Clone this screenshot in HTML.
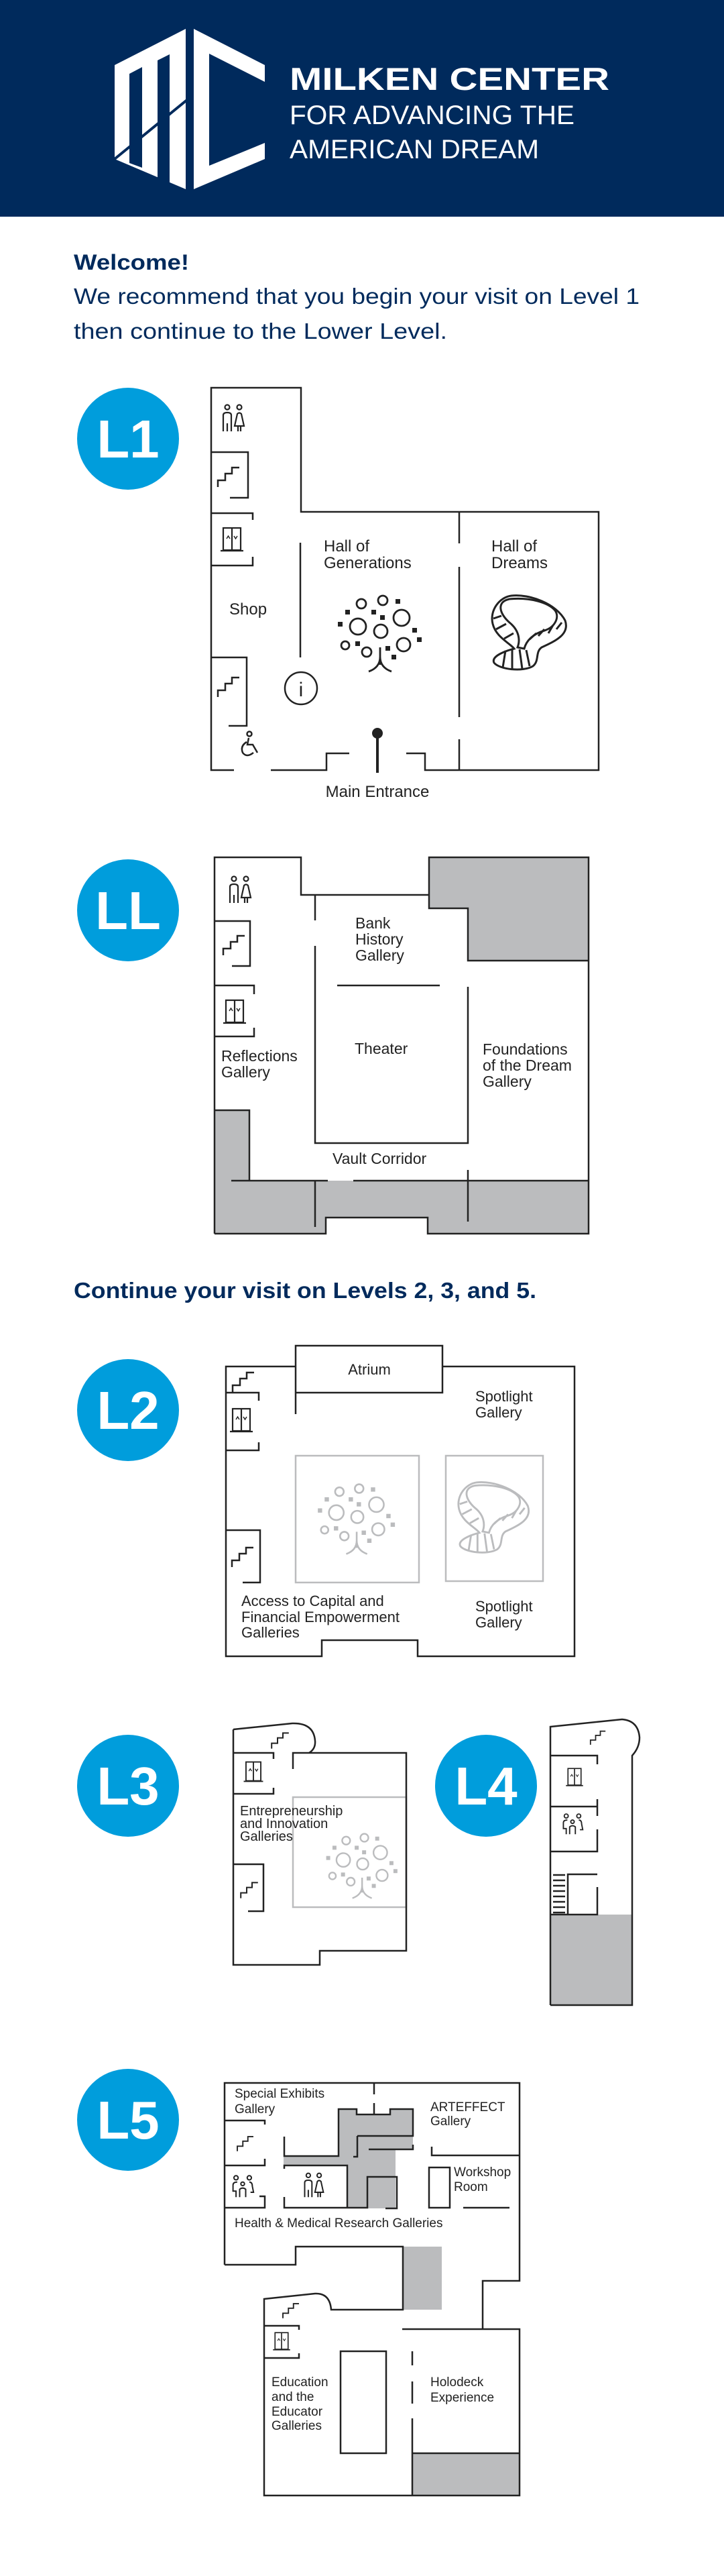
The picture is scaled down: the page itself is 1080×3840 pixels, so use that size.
<!DOCTYPE html>
<html><head><meta charset="utf-8"><style>
html,body{margin:0;padding:0;background:#fff;}
svg{display:block;}
.w{fill:none;stroke:#222;stroke-width:2.5;}
.g{fill:none;stroke:#bbbcbe;stroke-width:2.5;}
.t{font-family:"Liberation Sans",sans-serif;fill:#222;}
.nv{font-family:"Liberation Sans",sans-serif;fill:#002a5c;}
</style></head><body>
<svg width="1080" height="3840" viewBox="0 0 1080 3840" xmlns="http://www.w3.org/2000/svg">
<defs>
<g id="stair"><path d="M-16,17 V7 H-5 V-3 H5 V-12 H16" fill="none" stroke="#222" stroke-width="2.5"/></g>
<g id="elev" fill="none" stroke="#222" stroke-width="2.2"><rect x="-13" y="-17" width="26" height="33"/><line x1="0" y1="-17" x2="0" y2="16"/><line x1="-17" y1="17" x2="17" y2="17"/><path d="M-8,-1 L-5.5,-5 L-3,-1 M3,-5 L5.5,-1 L8,-5" stroke-width="1.5"/></g>
<g id="rest" fill="none" stroke="#222" stroke-width="2.2"><circle cx="-9" cy="-18" r="3.5"/><path d="M-15,18 V4 M-15,4 V-6 Q-15,-10 -9,-10 Q-3,-10 -3,-6 V4 M-3,4 V18 M-9,6 V18"/><circle cx="9" cy="-18" r="3.5"/><path d="M2,10 L6,-8 Q9,-11 12,-8 L16,10 Z M7,10 V18 M11,10 V18"/></g>
<g id="fam" fill="none" stroke="#222" stroke-width="2.2"><circle cx="-11" cy="-14" r="3.5"/><circle cx="11" cy="-14" r="3.5"/><circle cx="0" cy="-4" r="3"/><path d="M-11,18 V8 H-16 V-2 Q-16,-7 -9,-7 M11,-7 Q16,-7 16,0 L18,10 H13 M-5,18 V5 Q0,1 5,5 V18"/></g>
<g id="tree">
<g fill="none" stroke-width="2.8"><circle cx="-29" cy="-45" r="7"/><circle cx="3" cy="-50" r="7"/><circle cx="31" cy="-24" r="12"/><circle cx="-34" cy="-11" r="12"/><circle cx="0" cy="-4" r="10"/><circle cx="34" cy="16" r="10"/><circle cx="-53" cy="17" r="6"/><circle cx="-21" cy="27" r="7"/>
<path d="M-1,20 V46 M-18,56 Q-1,50 -1,34 Q-1,50 16,56"/></g>
<g stroke="none"><rect x="22" y="-52" width="7" height="7"/><rect x="-53" y="-36" width="7" height="7"/><rect x="-14" y="-36" width="7" height="7"/><rect x="-1" y="-28" width="7" height="7"/><rect x="-64" y="-18" width="7" height="7"/><rect x="47" y="-9" width="7" height="7"/><rect x="54" y="5" width="7" height="7"/><rect x="-38" y="11" width="7" height="7"/><rect x="7" y="18" width="7" height="7"/><rect x="16" y="31" width="7" height="7"/></g>
</g>
<g id="dream" fill="none" stroke-width="3">
<path d="M763,888 C790,885 830,900 843,925 C850,945 830,955 808,965 C798,972 805,985 795,993 C780,1002 745,998 737,988 C732,978 755,970 767,967 C760,958 740,950 735,930 C730,910 745,890 763,888 Z"/>
<path d="M760,893 C740,897 745,915 760,928 C775,940 776,955 772,965 L782,967 C785,955 795,945 812,940 C828,935 835,920 828,910 C818,898 790,890 760,893 Z"/>
<path d="M736,922 L748,918 M740,938 L755,930 M752,952 L766,944 M790,953 L800,944 M803,948 L812,938 M818,944 L825,932 M830,938 L838,928 M754,970 L750,995 M764,968 L764,998 M775,968 L779,997 M785,969 L790,993"/>
</g>
</defs>

<!-- Header -->
<rect x="0" y="0" width="1080" height="323" fill="#002a5c"/>
<polygon points="171,97 277,43 277,282 171,237" fill="#fff"/>
<polygon points="193,110 212,100 212,250 193,243" fill="#002a5c"/>
<polygon points="235,90 253,81 253,272 235,265" fill="#002a5c"/>
<line x1="171" y1="237" x2="312" y2="122" stroke="#002a5c" stroke-width="4"/>
<polygon points="289,43 395,97 395,122 312,80 312,247 395,213 395,237 289,282" fill="#fff"/>
<text x="432" y="134" font-size="47" font-weight="bold" fill="#fff" font-family="Liberation Sans,sans-serif" textLength="477" lengthAdjust="spacingAndGlyphs">MILKEN CENTER</text>
<text x="432" y="185" font-size="40" fill="#fff" font-family="Liberation Sans,sans-serif" textLength="425" lengthAdjust="spacingAndGlyphs">FOR ADVANCING THE</text>
<text x="432" y="236" font-size="40" fill="#fff" font-family="Liberation Sans,sans-serif" textLength="372" lengthAdjust="spacingAndGlyphs">AMERICAN DREAM</text>

<text class="nv" x="110" y="402" font-size="32" font-weight="bold" textLength="172" lengthAdjust="spacingAndGlyphs">Welcome!</text>
<text class="nv" x="110" y="453" font-size="33" textLength="844" lengthAdjust="spacingAndGlyphs">We recommend that you begin your visit on Level 1</text>
<text class="nv" x="110" y="505" font-size="33" textLength="557" lengthAdjust="spacingAndGlyphs">then continue to the Lower Level.</text>

<!-- L1 -->
<circle cx="191" cy="654" r="76" fill="#009ddc"/>
<text x="191" y="682" font-size="80" font-weight="bold" fill="#fff" text-anchor="middle" font-family="Liberation Sans,sans-serif">L1</text>
<path class="w" d="M349,1148 H315 V578 H449 V763 H893 V1148 H634 V1123 H606 M521,1123 H487 V1148 H404"/>
<path class="w" d="M685,763 V810 M685,845 V1069 M685,1102 V1148 M448,809 V980"/>
<path class="w" d="M315,674 H370 V742 H343 M315,765 H377 V775 M377,830 V843 H315 M315,980 H368 V1082 H341"/>
<use href="#rest" x="348" y="625"/>
<use href="#stair" x="341" y="709"/>
<use href="#elev" x="346" y="804"/>
<use href="#stair" x="341" y="1022"/>
<line x1="563" y1="1093" x2="563" y2="1152" stroke="#222" stroke-width="4"/>
<circle cx="563" cy="1093" r="8" fill="#222"/>
<circle cx="449" cy="1026" r="24" class="w"/>
<text x="449" y="1038" font-size="30" text-anchor="middle" class="t" font-family="Liberation Serif,serif">i</text>
<g class="w" stroke-width="2"><circle cx="372" cy="1094" r="3.5"/><path d="M371,1100 L369,1110 H377 L384,1122 M368,1106 Q358,1112 362,1122 Q368,1130 378,1122"/></g>
<use href="#tree" x="568" y="945" fill="#222" stroke="#222"/>
<use href="#dream" stroke="#222"/>
<text class="t" x="342" y="916" font-size="24">Shop</text>
<text class="t" x="483" y="822" font-size="24">Hall of</text>
<text class="t" x="483" y="847" font-size="24">Generations</text>
<text class="t" x="733" y="822" font-size="24">Hall of</text>
<text class="t" x="733" y="847" font-size="24">Dreams</text>
<text class="t" x="563" y="1188" font-size="24" text-anchor="middle">Main Entrance</text>

<!-- LL -->
<circle cx="191" cy="1357" r="76" fill="#009ddc"/>
<text x="191" y="1385" font-size="80" font-weight="bold" fill="#fff" text-anchor="middle" font-family="Liberation Sans,sans-serif">LL</text>
<polygon points="640,1278 878,1278 878,1432 698,1432 698,1354 640,1354" fill="#bbbcbe"/>
<polygon points="320,1655 372,1655 372,1760 878,1760 878,1839 638,1839 638,1815 486,1815 486,1839 320,1839" fill="#bbbcbe"/>
<path class="w" d="M320,1839 V1278 H449 V1334 H640 V1278 H878 V1839 H638 V1815 H486 V1839 H320 M640,1334 V1354 H698 V1432 H878"/>
<path class="w" d="M470,1334 V1372 M470,1410 V1704 H698 V1471 M503,1469 H656 M320,1655 H372 V1760 H345 M372,1760 H489 M527,1760 H878 M470,1760 V1829 M698,1744 V1821"/>
<path class="w" d="M320,1373 H373 V1440 H346 M320,1469 H379 V1482 M379,1532 V1545 H320"/>
<use href="#rest" x="358" y="1328"/>
<use href="#stair" x="349" y="1407"/>
<use href="#elev" x="350" y="1508"/>
<text class="t" x="530" y="1384" font-size="23">Bank</text>
<text class="t" x="530" y="1408" font-size="23">History</text>
<text class="t" x="530" y="1432" font-size="23">Gallery</text>
<text class="t" x="529" y="1571" font-size="23">Theater</text>
<text class="t" x="330" y="1582" font-size="23">Reflections</text>
<text class="t" x="330" y="1606" font-size="23">Gallery</text>
<text class="t" x="720" y="1572" font-size="23">Foundations</text>
<text class="t" x="720" y="1596" font-size="23">of the Dream</text>
<text class="t" x="720" y="1620" font-size="23">Gallery</text>
<text class="t" x="496" y="1735" font-size="23">Vault Corridor</text>

<text class="nv" x="110" y="1935" font-size="33" font-weight="bold" textLength="690" lengthAdjust="spacingAndGlyphs">Continue your visit on Levels 2, 3, and 5.</text>

<!-- L2 -->
<circle cx="191" cy="2102" r="76" fill="#009ddc"/>
<text x="191" y="2130" font-size="80" font-weight="bold" fill="#fff" text-anchor="middle" font-family="Liberation Sans,sans-serif">L2</text>
<path class="w" d="M441,2037 H337 V2469 H480 V2445 H623 V2469 H857 V2037 H660 M441,2006 H660 V2076 H441 Z M441,2076 V2108"/>
<path class="w" d="M337,2076 H386 V2088 M386,2150 V2162 H337 M337,2281 H388 V2359 H362"/>
<use href="#stair" x="363" y="2058" transform="translate(0,0)"/>
<use href="#elev" x="360" y="2117"/>
<use href="#stair" x="362" y="2319"/>
<rect x="441" y="2170" width="184" height="189" class="g"/>
<rect x="665" y="2170" width="145" height="187" class="g"/>
<use href="#tree" transform="translate(533,2265) scale(0.92)" fill="#bbbcbe" stroke="#bbbcbe"/>
<use href="#dream" transform="translate(737,2263) scale(0.95) translate(-790,-944)" stroke="#bbbcbe"/>
<text class="t" x="551" y="2049" font-size="22" text-anchor="middle">Atrium</text>
<text class="t" x="709" y="2089" font-size="22">Spotlight</text>
<text class="t" x="709" y="2113" font-size="22">Gallery</text>
<text class="t" x="709" y="2402" font-size="22">Spotlight</text>
<text class="t" x="709" y="2426" font-size="22">Gallery</text>
<text class="t" x="360" y="2394" font-size="22">Access to Capital and</text>
<text class="t" x="360" y="2418" font-size="22">Financial Empowerment</text>
<text class="t" x="360" y="2441" font-size="22">Galleries</text>

<!-- L3 -->
<circle cx="191" cy="2662" r="76" fill="#009ddc"/>
<text x="191" y="2690" font-size="80" font-weight="bold" fill="#fff" text-anchor="middle" font-family="Liberation Sans,sans-serif">L3</text>
<rect x="437" y="2679" width="169" height="164" class="g" stroke-width="3"/>
<use href="#tree" transform="translate(541,2782) scale(0.85)" fill="#bbbcbe" stroke="#bbbcbe"/>
<path class="w" d="M348,2578 L436,2569 Q468,2568 470,2595 Q471,2607 461,2613 M437,2637 V2613 H606 V2908 H477 V2929 H348 V2578 M348,2613 H408 V2622 M408,2665 V2674 H348 M348,2779 H393 V2849 H370"/>
<use href="#stair" transform="translate(418,2593) scale(0.8)"/>
<use href="#elev" transform="translate(378,2641) scale(0.85)"/>
<use href="#stair" transform="translate(372,2816) scale(0.8)"/>
<text class="t" x="358" y="2706" font-size="20">Entrepreneurship</text>
<text class="t" x="358" y="2725" font-size="20">and Innovation</text>
<text class="t" x="358" y="2744" font-size="20">Galleries</text>

<!-- L4 -->
<circle cx="725" cy="2662" r="76" fill="#009ddc"/>
<text x="725" y="2690" font-size="80" font-weight="bold" fill="#fff" text-anchor="middle" font-family="Liberation Sans,sans-serif">L4</text>
<rect x="821" y="2854" width="122" height="135" fill="#bbbcbe"/>
<path class="w" d="M821,2989 V2574 L928,2563 Q952,2565 954,2590 Q954,2605 943,2617 V2989 H821"/>
<path class="w" d="M821,2617 H891 V2630 M891,2682 V2693 H821 M891,2682 V2707 M891,2727 V2760 H821 M847,2854 V2794 H891 M891,2813 V2854 H821"/>
<path class="w" stroke-width="2" d="M825,2795 H843 M825,2803 H843 M825,2811 H843 M825,2819 H843 M825,2827 H843 M825,2835 H843 M825,2843 H843 M825,2851 H843"/>
<use href="#stair" transform="translate(892,2589) scale(0.7)"/>
<use href="#elev" transform="translate(857,2649) scale(0.75)"/>
<use href="#fam" transform="translate(854,2719) scale(0.85)"/>

<!-- L5 -->
<circle cx="191" cy="3160" r="76" fill="#009ddc"/>
<text x="191" y="3188" font-size="80" font-weight="bold" fill="#fff" text-anchor="middle" font-family="Liberation Sans,sans-serif">L5</text>
<polygon points="505,3144 532,3144 532,3152 582,3152 582,3144 616,3144 616,3205 590,3205 590,3292 519,3292 519,3228 423,3228 423,3214 505,3214" fill="#bbbcbe"/>
<rect x="601" y="3349" width="58" height="94" fill="#bbbcbe"/>
<rect x="615" y="3657" width="160" height="63" fill="#bbbcbe"/>
<path class="w" d="M335,3376 V3105 H775 V3400 H720 V3472 H775 V3720 H394 V3427 L470,3419 Q492,3418 494,3443 H601 V3349 H441 V3376 H335 M600,3472 H720"/>
<path class="w" d="M558,3105 V3122 M558,3135 V3152 M424,3185 V3214 H505 V3144 H532 V3152 H582 V3144 H616 V3184 H533 M533,3184 V3215 H527 M550,3204 H616 V3197 M644,3200 V3213 H775"/>
<path class="w" d="M335,3161 H395 V3167 M395,3218 V3228 H335 M335,3228 H395 M335,3291 H395 V3274 H387 M424,3233 V3228 H518 V3291 H424 V3275 M518,3291 H548 V3245 H592 V3292 H575 M640,3231 H671 V3291 H640 Z M691,3291 H760"/>
<path class="w" d="M394,3467 H446 V3473 M446,3508 V3515 H394 M508,3505 H576 V3657 H508 Z M615,3505 V3526 M615,3550 V3583 M615,3605 V3720 M615,3657 H775"/>
<use href="#stair" transform="translate(366,3194) scale(0.75)"/>
<use href="#fam" transform="translate(362,3259) scale(0.9)"/>
<use href="#rest" transform="translate(468,3259) scale(0.9)"/>
<use href="#stair" transform="translate(434,3443) scale(0.75)"/>
<use href="#elev" transform="translate(420,3490) scale(0.75)"/>
<text class="t" x="350" y="3127" font-size="19">Special Exhibits</text>
<text class="t" x="350" y="3150" font-size="19">Gallery</text>
<text class="t" x="642" y="3147" font-size="19">ARTEFFECT</text>
<text class="t" x="642" y="3168" font-size="19">Gallery</text>
<text class="t" x="677" y="3244" font-size="19">Workshop</text>
<text class="t" x="677" y="3266" font-size="19">Room</text>
<text class="t" x="350" y="3320" font-size="19">Health &amp; Medical Research Galleries</text>
<text class="t" x="405" y="3557" font-size="19">Education</text>
<text class="t" x="405" y="3579" font-size="19">and the</text>
<text class="t" x="405" y="3601" font-size="19">Educator</text>
<text class="t" x="405" y="3622" font-size="19">Galleries</text>
<text class="t" x="642" y="3557" font-size="19">Holodeck</text>
<text class="t" x="642" y="3580" font-size="19">Experience</text>
</svg>
</body></html>
